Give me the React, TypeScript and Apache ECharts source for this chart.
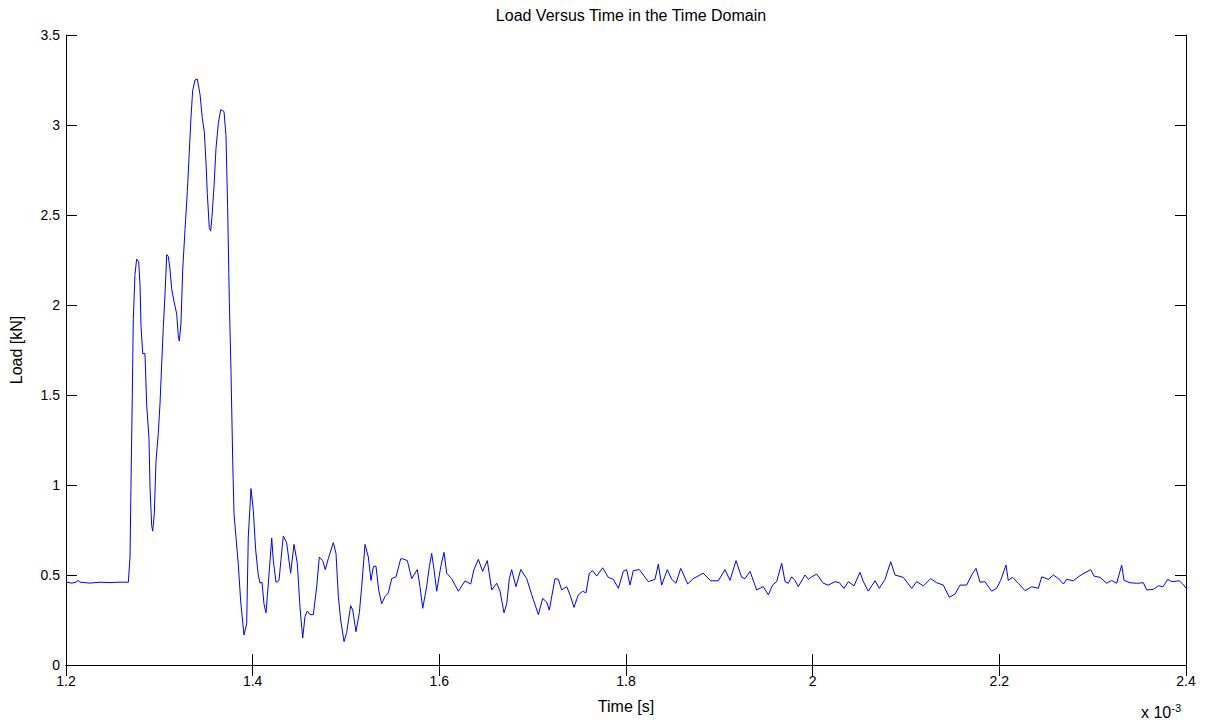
import React, { useEffect, useRef } from "react";
import * as echarts from "echarts";

const timeMs: number[] = [
  1.2, 1.2064, 1.2107, 1.2129, 1.215, 1.2257, 1.2364, 1.2471, 1.2579, 1.2668,
  1.2686, 1.2696, 1.271, 1.2721, 1.2739, 1.2757, 1.2779, 1.2793, 1.2804, 1.2822,
  1.2846, 1.2865, 1.2889, 1.29, 1.2918, 1.2929, 1.2946, 1.2964, 1.2989, 1.3007,
  1.3025, 1.3043, 1.3061, 1.3079, 1.3096, 1.3114, 1.3132, 1.3157, 1.3186, 1.3203,
  1.3214, 1.3232, 1.325, 1.3275, 1.33, 1.3318, 1.3339, 1.3357, 1.3382, 1.3407,
  1.3436, 1.346, 1.3482, 1.35, 1.3514, 1.3535, 1.355, 1.3564, 1.3586, 1.3607,
  1.3632, 1.3658, 1.3693, 1.3714, 1.3732, 1.375, 1.3768, 1.3786, 1.38, 1.3821,
  1.3846, 1.3872, 1.3907, 1.3936, 1.3953, 1.3982, 1.4007, 1.4032, 1.406, 1.4079,
  1.41, 1.4121, 1.4143, 1.4168, 1.4204, 1.4221, 1.425, 1.4282, 1.4328, 1.4364,
  1.4407, 1.4443, 1.4478, 1.4507, 1.4536, 1.4561, 1.4585, 1.4614, 1.465, 1.4686,
  1.4714, 1.475, 1.4778, 1.481, 1.4864, 1.4893, 1.4918, 1.4943, 1.4979, 1.5007,
  1.505, 1.5072, 1.5107, 1.5143, 1.5168, 1.5204, 1.5239, 1.5268, 1.5293, 1.5321,
  1.535, 1.5382, 1.5418, 1.5453, 1.549, 1.5536, 1.5586, 1.5607, 1.5657, 1.5704,
  1.5764, 1.5793, 1.5822, 1.5864, 1.5893, 1.5918, 1.5943, 1.5972, 1.6015, 1.605,
  1.6079, 1.6132, 1.6203, 1.6275, 1.6336, 1.6371, 1.6418, 1.6464, 1.6514, 1.6561,
  1.6615, 1.665, 1.6693, 1.6722, 1.675, 1.6775, 1.6821, 1.6872, 1.6936, 1.699,
  1.7061, 1.7107, 1.715, 1.7178, 1.7239, 1.7275, 1.7311, 1.7365, 1.74, 1.7443,
  1.7489, 1.7536, 1.7571, 1.7607, 1.7643, 1.7686, 1.775, 1.781, 1.7864, 1.7918,
  1.7971, 1.8007, 1.8043, 1.8078, 1.8143, 1.8186, 1.8239, 1.8311, 1.8346, 1.8382,
  1.8443, 1.8489, 1.8536, 1.8586, 1.8661, 1.8721, 1.8828, 1.8907, 1.8989, 1.9061,
  1.9114, 1.9179, 1.9239, 1.9275, 1.9329, 1.94, 1.9471, 1.9525, 1.9571, 1.9614,
  1.9668, 1.9704, 1.9739, 1.9775, 1.9811, 1.9846, 1.9918, 1.9954, 1.9989, 2.0043,
  2.0114, 2.0168, 2.0239, 2.0286, 2.0336, 2.0382, 2.0443, 2.0507, 2.0543, 2.0596,
  2.0668, 2.0714, 2.0775, 2.0836, 2.0882, 2.0971, 2.1061, 2.1114, 2.1186, 2.1265,
  2.1329, 2.14, 2.1464, 2.1525, 2.1579, 2.165, 2.1704, 2.175, 2.1793, 2.1846,
  2.1918, 2.1971, 2.2014, 2.2071, 2.2096, 2.2143, 2.2204, 2.2275, 2.2346, 2.2418,
  2.2454, 2.2525, 2.2579, 2.2632, 2.2686, 2.2722, 2.2793, 2.2846, 2.2918, 2.2979,
  2.3014, 2.3079, 2.315, 2.3204, 2.3257, 2.3311, 2.3336, 2.34, 2.3471, 2.3543,
  2.3579, 2.365, 2.3704, 2.3754, 2.3804, 2.385, 2.3929, 2.3975, 2.4,
];

const loadKN: number[] = [
  0.46, 0.455, 0.46, 0.47, 0.46, 0.455, 0.46, 0.458, 0.46, 0.46,
  0.6, 0.99, 1.49, 1.92, 2.17, 2.255, 2.24, 2.11, 1.88, 1.73,
  1.73, 1.44, 1.26, 0.99, 0.774, 0.744, 0.84, 1.13, 1.29, 1.45,
  1.67, 1.88, 2.06, 2.28, 2.27, 2.2, 2.09, 2.02, 1.95, 1.83,
  1.8, 1.9, 2.19, 2.42, 2.63, 2.82, 3.04, 3.19, 3.25, 3.255,
  3.17, 3.04, 2.96, 2.79, 2.62, 2.43, 2.41, 2.49, 2.66, 2.87,
  3.01, 3.085, 3.075, 2.94, 2.54, 2.02, 1.63, 1.14, 0.84, 0.71,
  0.56, 0.35, 0.167, 0.23, 0.71, 0.98, 0.86, 0.64, 0.5, 0.455,
  0.46, 0.34, 0.29, 0.455, 0.705, 0.58, 0.46, 0.47, 0.716, 0.68,
  0.51, 0.67, 0.566, 0.32, 0.15, 0.27, 0.3, 0.28, 0.28, 0.435,
  0.6, 0.58, 0.53, 0.59, 0.68, 0.62, 0.38, 0.25, 0.13, 0.18,
  0.33, 0.305, 0.185, 0.29, 0.435, 0.67, 0.6, 0.47, 0.546, 0.55,
  0.417, 0.34, 0.38, 0.4, 0.48, 0.49, 0.59, 0.59, 0.58, 0.48,
  0.53, 0.435, 0.315, 0.435, 0.546, 0.62, 0.53, 0.41, 0.546, 0.626,
  0.51, 0.48, 0.41, 0.467, 0.45, 0.53, 0.587, 0.52, 0.58, 0.417,
  0.454, 0.41, 0.29, 0.34, 0.48, 0.53, 0.435, 0.53, 0.48, 0.39,
  0.28, 0.37, 0.35, 0.305, 0.48, 0.476, 0.417, 0.435, 0.39, 0.32,
  0.39, 0.41, 0.4, 0.51, 0.524, 0.494, 0.54, 0.487, 0.476, 0.426,
  0.52, 0.53, 0.444, 0.524, 0.53, 0.5, 0.463, 0.476, 0.56, 0.444,
  0.53, 0.476, 0.454, 0.537, 0.45, 0.48, 0.51, 0.468, 0.468, 0.53,
  0.47, 0.58, 0.487, 0.48, 0.52, 0.417, 0.435, 0.39, 0.444, 0.463,
  0.565, 0.463, 0.454, 0.49, 0.47, 0.435, 0.5, 0.476, 0.49, 0.505,
  0.454, 0.444, 0.463, 0.457, 0.426, 0.463, 0.44, 0.515, 0.463, 0.41,
  0.468, 0.426, 0.476, 0.574, 0.5, 0.487, 0.426, 0.463, 0.44, 0.48,
  0.457, 0.444, 0.376, 0.394, 0.444, 0.444, 0.5, 0.537, 0.46, 0.463,
  0.41, 0.426, 0.47, 0.555, 0.47, 0.487, 0.454, 0.413, 0.435, 0.426,
  0.49, 0.476, 0.5, 0.48, 0.45, 0.476, 0.468, 0.49, 0.513, 0.53,
  0.494, 0.487, 0.454, 0.47, 0.454, 0.555, 0.47, 0.457, 0.454, 0.457,
  0.417, 0.42, 0.44, 0.435, 0.476, 0.463, 0.468, 0.444, 0.426,
];

const FONT = "'Liberation Sans', Arial, Helvetica, sans-serif";

export default function App() {
  const ref = useRef<HTMLDivElement>(null);
  useEffect(() => {
    if (!ref.current) return;
    const chart = echarts.init(ref.current, undefined, { renderer: "svg" });
    const data = timeMs.map((t, i) => [t, loadKN[i]]);
    const axisLine = { show: true, lineStyle: { color: "#000", width: 1 } };
    const tick = { show: true, inside: true, length: 11, lineStyle: { color: "#000", width: 1 } };
    chart.setOption({
      animation: false,
      backgroundColor: "#fff",
      title: {
        text: "Load Versus Time in the Time Domain",
        left: 626,
        textAlign: "center",
        top: 2,
        textStyle: { fontFamily: FONT, fontSize: 16, fontWeight: "normal", color: "#000" },
      },
      grid: { left: 66, top: 35, right: 20, bottom: 59, containLabel: false },
      xAxis: [
        {
          type: "value",
          min: 1.2,
          max: 2.4,
          interval: 0.2,
          position: "bottom",
          name: "Time [s]",
          nameLocation: "middle",
          nameGap: 33,
          nameTextStyle: { fontFamily: FONT, fontSize: 16, color: "#000" },
          axisLine,
          axisTick: tick,
          axisLabel: { fontFamily: FONT, fontSize: 14, color: "#000", margin: 9 },
          splitLine: { show: false },
        },
        {
          type: "value",
          min: 1.2,
          max: 2.4,
          interval: 0.2,
          position: "top",
          axisLine,
          axisTick: tick,
          axisLabel: { show: false },
          splitLine: { show: false },
        },
      ],
      yAxis: [
        {
          type: "value",
          min: 0,
          max: 3.5,
          interval: 0.5,
          position: "left",
          name: "Load [kN]",
          nameLocation: "middle",
          nameGap: 42,
          nameTextStyle: { fontFamily: FONT, fontSize: 16, color: "#000" },
          axisLine,
          axisTick: tick,
          axisLabel: { fontFamily: FONT, fontSize: 14, color: "#000", margin: 6 },
          splitLine: { show: false },
        },
        {
          type: "value",
          min: 0,
          max: 3.5,
          interval: 0.5,
          position: "right",
          axisLine,
          axisTick: tick,
          axisLabel: { show: false },
          splitLine: { show: false },
        },
      ],
      graphic: [
        {
          type: "text",
          left: 1141,
          top: 702,
          style: {
            text: "x 10{sup|-3}",
            rich: {
              sup: { fontSize: 11, verticalAlign: "top", padding: [0, 0, 9, 0], fontFamily: FONT, fill: "#000" },
            },
            fontFamily: FONT,
            fontSize: 16,
            fill: "#000",
          },
        },
      ],
      series: [
        {
          type: "line",
          data,
          xAxisIndex: 0,
          yAxisIndex: 0,
          symbol: "none",
          lineStyle: { color: "#0000ff", width: 1 },
          itemStyle: { color: "#0000ff" },
        },
      ],
    });
    return () => chart.dispose();
  }, []);
  return (
    <div
      ref={ref}
      style={{ position: "absolute", left: 0, top: 0, width: 1206, height: 724 }}
    />
  );
}
